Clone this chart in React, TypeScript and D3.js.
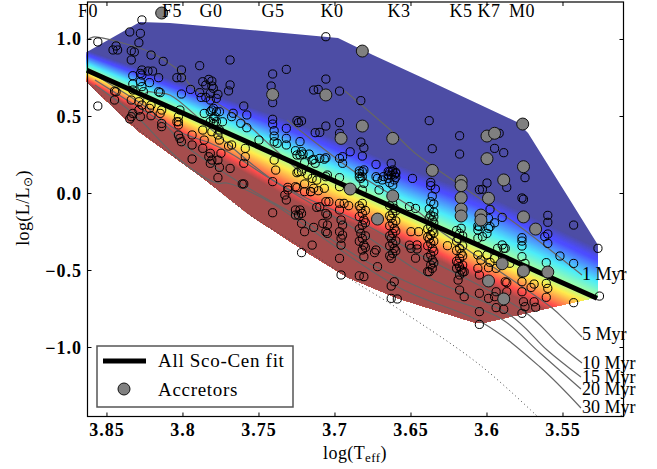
import React from "react";
import * as d3 from "d3";

// ---- data (logTeff, logL) ----
const xTicks = [3.85, 3.8, 3.75, 3.7, 3.65, 3.6, 3.55];
const yTicks = [1.0, 0.5, 0.0, -0.5, -1.0];
const spectralTypes: [string, number][] = [["F0", 3.8625], ["F5", 3.8072], ["G0", 3.7816], ["G5", 3.7408], ["K0", 3.702], ["K3", 3.6579], ["K5", 3.6171], ["K7", 3.5987], ["M0", 3.577]];

const fit: [number, number][] = [[3.8632, 0.8], [3.5276, -0.68]];

const region: [number, number][] = [[3.8632, 0.919], [3.8283, 1.114], [3.8086, 1.107], [3.7559, 1.062], [3.698, 1.01], [3.675, 0.899], [3.6421, 0.75], [3.5803, 0.464], [3.573, 0.393], [3.5454, -0.042], [3.527, -0.334], [3.527, -0.672], [3.5566, -0.737], [3.6027, -0.841], [3.6092, -0.834], [3.6592, -0.679], [3.6921, -0.542], [3.7178, -0.386], [3.7559, -0.14], [3.7868, 0.101], [3.8303, 0.412], [3.8632, 0.724]];

// half widths of the colour band above and below the fit
const bandT = [3.8632, 3.723, 3.657, 3.592, 3.5276];
const bandUp = [0.13, 0.27, 0.29, 0.35, 0.33];
const bandDown = [0.08, 0.25, 0.2, 0.23, 0.22];

const jetStops = [0, 0.11, 0.125, 0.35, 0.5, 0.64, 0.75, 0.89, 1];
const jetColors = ["#00007f", "#0000ff", "#0000ff", "#00e5f7", "#7cff79", "#ffe600", "#ff8000", "#ff0000", "#7f0000"];

const isoEarly: [number, number][] = [[3.8632, 0.997], [3.8592, 1.016], [3.8533, 1.01], [3.8217, 0.919], [3.8105, 0.854], [3.8007, 0.782], [3.7954, 0.705], [3.7809, 0.607], [3.7625, 0.49], [3.7428, 0.315], [3.723, 0.14]];
const iso1: [number, number][] = [[3.6934, 0.666], [3.6605, 0.386], [3.6474, 0.263], [3.5816, -0.192], [3.5375, -0.529]];
const iso5: [number, number][] = [[3.7316, 0.477], [3.6888, 0.153], [3.6441, -0.127], [3.6342, -0.218], [3.5882, -0.529], [3.5572, -0.744], [3.5487, -0.821], [3.5375, -0.932]];
const iso10: [number, number][] = [[3.8263, 0.588], [3.8237, 0.659], [3.8171, 0.653], [3.8086, 0.64], [3.7868, 0.464], [3.7711, 0.328], [3.7428, 0.101], [3.723, -0.01], [3.6836, -0.185], [3.6441, -0.399], [3.575, -0.769], [3.552, -0.984], [3.5375, -1.101]];
const iso15: [number, number][] = [[3.8612, 0.789], [3.8283, 0.588], [3.802, 0.399], [3.7822, 0.328], [3.7691, 0.263], [3.7382, 0.068], [3.7118, -0.088], [3.6836, -0.25], [3.6375, -0.549], [3.5849, -0.789], [3.5605, -1.016], [3.5382, -1.192]];
const iso20: [number, number][] = [[3.8579, 0.737], [3.8349, 0.594], [3.8118, 0.445], [3.8007, 0.328], [3.7776, 0.166], [3.7493, -0.01], [3.723, -0.159], [3.6836, -0.419], [3.6375, -0.64], [3.5915, -0.808], [3.5651, -1.036], [3.5382, -1.269]];
const iso30: [number, number][] = [[3.8579, 0.705], [3.8316, 0.51], [3.802, 0.218], [3.7776, 0.068], [3.7711, 0.068], [3.7428, -0.055], [3.723, -0.185], [3.6572, -0.614], [3.6027, -0.841], [3.5651, -1.127], [3.5382, -1.393]];
const isoLimit: [number, number][] = [[3.8632, 0.724], [3.8303, 0.425], [3.7868, 0.101], [3.7559, -0.14], [3.7184, -0.367], [3.6921, -0.542], [3.6572, -0.756], [3.6046, -1.114], [3.5671, -1.445]];

const ageLabels: [string, number, number][] = [["1 Myr", 3.5375, -0.529], ["5 Myr", 3.5375, -0.92], ["10 Myr", 3.5375, -1.104], ["15 Myr", 3.5375, -1.2], ["20 Myr", 3.5375, -1.273], ["30 Myr", 3.5375, -1.39]];

const accretors: [number, number][] = [[3.814, 1.172], [3.741, 0.643], [3.682, 0.925], [3.706, 0.64], [3.696, 0.358], [3.682, 0.438], [3.662, 0.358], [3.69, 0.029], [3.672, -0.166], [3.662, -0.016], [3.636, 0.15], [3.617, 0.081], [3.617, 0.051], [3.617, -0.027], [3.617, -0.101], [3.617, -0.146], [3.6, 0.226], [3.6, 0.373], [3.595, 0.391], [3.589, 0.088], [3.599, -0.031], [3.604, -0.14], [3.604, -0.172], [3.5765, 0.451], [3.576, 0.174], [3.576, -0.152], [3.568, -0.231], [3.56, -0.51], [3.576, -0.503], [3.59, -0.456], [3.599, -0.568], [3.589, -0.685]];

const starsHot: [number, number][] = [[3.827, 1.127], [3.835, 1.049], [3.828, 1.04], [3.829, 0.979], [3.856, 0.984], [3.844, 0.958], [3.846, 0.932], [3.843, 0.932], [3.834, 0.927], [3.832, 0.919], [3.821, 0.899], [3.834, 0.867], [3.813, 0.858], [3.789, 0.83], [3.801, 0.802], [3.804, 0.752], [3.801, 0.752], [3.816, 0.752], [3.82, 0.795], [3.823, 0.795], [3.827, 0.802], [3.828, 0.78], [3.833, 0.765], [3.827, 0.769], [3.822, 0.72], [3.828, 0.726], [3.833, 0.711], [3.827, 0.694], [3.833, 0.672], [3.826, 0.661], [3.816, 0.661], [3.815, 0.655], [3.795, 0.676], [3.801, 0.646], [3.789, 0.655], [3.788, 0.624], [3.785, 0.624], [3.787, 0.726], [3.783, 0.741], [3.781, 0.73], [3.785, 0.704], [3.781, 0.698], [3.782, 0.65], [3.78, 0.683], [3.782, 0.607], [3.778, 0.618], [3.78, 0.553], [3.782, 0.531], [3.786, 0.52], [3.779, 0.499], [3.782, 0.466], [3.78, 0.455], [3.778, 0.466], [3.845, 0.665], [3.844, 0.661], [3.845, 0.607], [3.856, 0.568], [3.834, 0.607], [3.829, 0.596], [3.827, 0.574], [3.821, 0.574], [3.822, 0.553], [3.829, 0.542], [3.833, 0.52], [3.834, 0.499], [3.835, 0.484], [3.828, 0.499], [3.821, 0.505], [3.814, 0.542], [3.815, 0.52], [3.814, 0.455], [3.814, 0.434], [3.802, 0.542], [3.803, 0.466], [3.803, 0.445], [3.804, 0.466], [3.803, 0.499], [3.794, 0.38], [3.787, 0.412], [3.781, 0.401], [3.777, 0.38], [3.803, 0.38], [3.802, 0.358], [3.801, 0.336], [3.794, 0.315], [3.786, 0.347], [3.787, 0.293], [3.782, 0.261], [3.783, 0.239], [3.781, 0.217], [3.782, 0.196], [3.794, 0.224], [3.777, 0.217]];

const starsG: [number, number][] = [[3.769, 0.867], [3.732, 0.806], [3.741, 0.776], [3.769, 0.705], [3.77, 0.666], [3.777, 0.644], [3.742, 0.698], [3.741, 0.59], [3.711, 0.676], [3.76, 0.568], [3.758, 0.51], [3.767, 0.521], [3.768, 0.499], [3.762, 0.456], [3.758, 0.427], [3.741, 0.482], [3.741, 0.451], [3.74, 0.408], [3.74, 0.373], [3.738, 0.326], [3.74, 0.336], [3.732, 0.423], [3.732, 0.358], [3.732, 0.315], [3.724, 0.46], [3.722, 0.471], [3.723, 0.337], [3.71, 0.397], [3.722, 0.272], [3.717, 0.256], [3.723, 0.25], [3.715, 0.217], [3.71, 0.228], [3.75, 0.347], [3.774, 0.466], [3.778, 0.531], [3.781, 0.542], [3.776, 0.531], [3.78, 0.488], [3.776, 0.412], [3.776, 0.347], [3.77, 0.308], [3.768, 0.315], [3.759, 0.293], [3.759, 0.239], [3.76, 0.196], [3.775, 0.261], [3.776, 0.17], [3.769, 0.163], [3.76, 0.062], [3.761, 0.062], [3.777, 0.103], [3.74, 0.217], [3.739, 0.152], [3.741, 0.077], [3.725, 0.135], [3.722, 0.142], [3.718, 0.12], [3.715, 0.098], [3.712, 0.087], [3.731, 0.04], [3.731, 0.023], [3.733, -0.01], [3.732, -0.042], [3.725, 0.038], [3.716, 0.012], [3.711, 0.018], [3.723, -0.107], [3.724, -0.14], [3.722, -0.129], [3.741, -0.125], [3.71, -0.086]];

const starsK0: [number, number][] = [[3.706, 1.018], [3.706, 0.743], [3.714, 0.672], [3.697, 0.665], [3.683, 0.603], [3.725, 0.473], [3.706, 0.438], [3.697, 0.46], [3.713, 0.395], [3.697, 0.391], [3.683, 0.334], [3.681, 0.297], [3.682, 0.243], [3.69, 0.271], [3.673, 0.189], [3.663, 0.196], [3.706, 0.232], [3.707, 0.223], [3.714, 0.222], [3.713, 0.196], [3.721, 0.256], [3.726, 0.278], [3.725, 0.25], [3.72, 0.2], [3.697, 0.228], [3.695, 0.239], [3.695, 0.196], [3.684, 0.146], [3.682, 0.109], [3.673, 0.109], [3.662, 0.142], [3.66, 0.137], [3.661, 0.12], [3.665, 0.12], [3.706, 0.109], [3.697, 0.103], [3.684, 0.109], [3.669, 0.088], [3.668, 0.11]];

const starsK1: [number, number][] = [[3.724, 0.142], [3.72, 0.062], [3.726, 0.044], [3.72, 0.012], [3.714, 0.034], [3.716, 0.012], [3.707, 0.034], [3.705, 0.12], [3.697, 0.044], [3.706, -0.053], [3.704, -0.053], [3.697, -0.064], [3.694, -0.064], [3.691, -0.079], [3.712, -0.09], [3.697, -0.107], [3.706, -0.129], [3.705, -0.14], [3.696, -0.172], [3.726, -0.107], [3.726, -0.14], [3.722, -0.194], [3.72, -0.248], [3.714, -0.22], [3.708, -0.194], [3.705, -0.205], [3.706, -0.248], [3.705, -0.259], [3.695, -0.205], [3.697, -0.248], [3.695, -0.27], [3.696, -0.291], [3.715, -0.335], [3.696, -0.335], [3.722, -0.384], [3.697, -0.421], [3.696, -0.529], [3.684, -0.534], [3.681, -0.54]];

const starsK2: [number, number][] = [[3.682, 0.142], [3.683, 0.098], [3.681, 0.066], [3.682, 0.023], [3.682, -0.064], [3.683, -0.096], [3.682, -0.129], [3.681, -0.172], [3.682, -0.205], [3.683, -0.259], [3.682, -0.291], [3.681, -0.335], [3.682, -0.367], [3.681, -0.41], [3.684, 0.13], [3.681, 0.153], [3.672, 0.098], [3.671, 0.023], [3.673, -0.367], [3.674, -0.384], [3.672, -0.475], [3.684, -0.08], [3.68, -0.11], [3.684, -0.15], [3.68, -0.19], [3.684, -0.23], [3.68, -0.275], [3.684, -0.31], [3.68, -0.35]];

const starsK3: [number, number][] = [[3.662, 0.153], [3.663, 0.12], [3.661, 0.088], [3.662, 0.055], [3.662, -0.064], [3.661, -0.096], [3.662, -0.129], [3.663, -0.161], [3.662, -0.194], [3.661, -0.226], [3.662, -0.259], [3.663, -0.291], [3.662, -0.324], [3.661, -0.356], [3.662, -0.389], [3.663, -0.421], [3.665, 0.098], [3.66, 0.13], [3.665, 0.142], [3.651, -0.085], [3.65, -0.248], [3.651, -0.335], [3.65, -0.356], [3.663, -0.601], [3.661, -0.573], [3.663, -0.681], [3.649, 0.098], [3.659, -0.685], [3.664, -0.08], [3.66, -0.112], [3.664, -0.145], [3.66, -0.178], [3.664, -0.21], [3.66, -0.243], [3.664, -0.275], [3.66, -0.308], [3.664, -0.34], [3.66, -0.372], [3.664, -0.405], [3.664, 0.07], [3.66, 0.105], [3.664, 0.14]];

const starsK5Up: [number, number][] = [[3.638, 0.473], [3.618, 0.375], [3.636, 0.291], [3.618, 0.256], [3.595, 0.293], [3.589, 0.265], [3.592, 0.391], [3.637, 0.072], [3.637, 0.051], [3.634, 0.029], [3.636, -0.017], [3.637, -0.053], [3.635, -0.068], [3.647, -0.097], [3.637, -0.14], [3.635, -0.151], [3.636, -0.172], [3.6, 0.068], [3.605, 0.025], [3.603, 0.027], [3.587, 0.04], [3.598, -0.103], [3.59, -0.155], [3.595, -0.19], [3.599, -0.161], [3.599, -0.226], [3.606, -0.211], [3.617, -0.226], [3.638, -0.1], [3.635, -0.12], [3.638, -0.16], [3.635, -0.19]];

const starsK5Low: [number, number][] = [[3.637, -0.215], [3.636, -0.243], [3.637, -0.269], [3.638, -0.295], [3.637, -0.324], [3.636, -0.356], [3.637, -0.399], [3.636, -0.432], [3.637, -0.464], [3.636, -0.486], [3.638, -0.508], [3.646, -0.334], [3.646, -0.36], [3.647, -0.42], [3.626, -0.339], [3.645, -0.248], [3.639, -0.507], [3.618, -0.259], [3.619, -0.291], [3.618, -0.356], [3.617, -0.389], [3.618, -0.421], [3.619, -0.453], [3.618, -0.475], [3.617, -0.497], [3.618, -0.529], [3.619, -0.562], [3.615, -0.508], [3.618, -0.627], [3.615, -0.67], [3.606, -0.399], [3.604, -0.432], [3.606, -0.486], [3.605, -0.529], [3.605, -0.648], [3.605, -0.767], [3.605, -0.85], [3.599, -0.681], [3.598, -0.447], [3.599, -0.482], [3.6, -0.399], [3.595, -0.421], [3.594, -0.486], [3.588, -0.573], [3.594, -0.638], [3.595, -0.67], [3.594, -0.741], [3.589, -0.752], [3.585, -0.453], [3.59, -0.334], [3.589, -0.356], [3.593, -0.356], [3.606, -0.291], [3.603, -0.28], [3.6, -0.259], [3.606, -0.237], [3.598, -0.215], [3.605, -0.215], [3.639, -0.23], [3.635, -0.256], [3.639, -0.282], [3.635, -0.31], [3.639, -0.34], [3.635, -0.375], [3.639, -0.415], [3.635, -0.45], [3.62, -0.24], [3.616, -0.275], [3.62, -0.31], [3.616, -0.34], [3.62, -0.37], [3.616, -0.405], [3.62, -0.44], [3.616, -0.465], [3.62, -0.485], [3.616, -0.51]];

const starsM: [number, number][] = [[3.575, 0.103], [3.577, -0.029], [3.576, -0.037], [3.56, -0.142], [3.56, -0.187], [3.543, -0.205], [3.56, -0.263], [3.562, -0.28], [3.56, -0.324], [3.577, -0.287], [3.577, -0.309], [3.577, -0.341], [3.588, -0.356], [3.577, -0.41], [3.575, -0.454], [3.561, -0.449], [3.552, -0.406], [3.543, -0.454], [3.527, -0.356], [3.526, -0.666], [3.543, -0.709], [3.561, -0.584], [3.56, -0.616], [3.561, -0.674], [3.569, -0.588], [3.571, -0.61], [3.577, -0.519], [3.577, -0.573], [3.577, -0.638], [3.576, -0.703], [3.575, -0.735], [3.577, -0.778], [3.569, -0.703], [3.568, -0.739], [3.587, -0.579], [3.587, -0.638]];

const stars = [...starsHot, ...starsG, ...starsK0, ...starsK1, ...starsK2, ...starsK3, ...starsK5Up, ...starsK5Low, ...starsM];

// ---- layout ----
const W = 657, H = 469;
const x = d3.scaleLinear().domain([3.8628, 3.5102]).range([87.5, 623.5]);
const y = d3.scaleLinear().domain([1.2435, -1.448]).range([2, 416.5]);
const serif = "'Liberation Serif', serif";

const lineGen = d3.line<[number, number]>().x(d => x(d[0])).y(d => y(d[1]));
const smoothLine = d3.line<[number, number]>().x(d => x(d[0])).y(d => y(d[1])).curve(d3.curveCatmullRom.alpha(0.5));
const fitL = d3.scaleLinear().domain([fit[0][0], fit[1][0]]).range([fit[0][1], fit[1][1]]);
const up = d3.scaleLinear<number>().domain(bandT).range(bandUp);
const down = d3.scaleLinear<number>().domain(bandT).range(bandDown);
const jet = d3.scaleLinear<string>().domain(jetStops).range(jetColors).interpolate(d3.interpolateRgb);
const overWhite = (c: string) => d3.interpolateRgb("#ffffff", c)(0.7);

const bandLevels = d3.range(0, 1.0001, 1 / 140);
const offsetAt = (v: number, t: number) => {
  const centre = 0.52;
  if (v < centre) return up(t) * ((centre - v) / centre);
  return -down(t) * ((v - centre) / (1 - centre));
};
const sampleT = d3.range(3.87, 3.52, -0.01);
const bandPath = (v: number) =>
  d3.area<number>()
    .x(t => x(t))
    .y0(() => y(-3))
    .y1(t => (v === 0 ? y(3) : y(fitL(t) + offsetAt(v, t))))(sampleT) as string;

const AxisLabelStyle = { fontFamily: serif, fill: "#000" } as const;

export default function App() {
  return (
    <svg width={W} height={H} style={{ position: "absolute", left: 0, top: 0, background: "#fff" }}>
      <defs>
        <clipPath id="region"><path d={lineGen(region) + "Z"} /></clipPath>
        <clipPath id="plot"><rect x={87.5} y={2} width={536} height={414.5} /></clipPath>
      </defs>

      <g clipPath="url(#region)">
        {bandLevels.map((v, i) => (
          <path key={i} d={bandPath(v)} fill={overWhite(jet(v))} />
        ))}
      </g>

      <g clipPath="url(#plot)" fill="none">
        <path d={smoothLine(isoLimit) as string} stroke="#444" strokeWidth={1} strokeDasharray="1 3" />
      </g>
      <g fill="none" stroke="#666" strokeWidth={1.2}>
        {[isoEarly, iso1, iso5, iso10, iso15, iso20, iso30].map((s, i) => (
          <path key={i} d={smoothLine(s) as string} />
        ))}
      </g>

      <g fill="none" stroke="#000" strokeWidth={1}>
        {stars.map((d, i) => <circle key={i} cx={x(d[0])} cy={y(d[1])} r={4.1} />)}
      </g>

      <path d={lineGen(fit) as string} stroke="#000" strokeWidth={5} fill="none" />

      <g fill="#808080" stroke="#111" strokeWidth={1}>
        {accretors.map((d, i) => <circle key={i} cx={x(d[0])} cy={y(d[1])} r={6} />)}
      </g>

      {/* frame and ticks */}
      <rect x={87.5} y={2} width={536} height={414.5} fill="none" stroke="#000" strokeWidth={1.2} />
      <g stroke="#000" strokeWidth={1}>
        {xTicks.map(t => (
          <g key={t}>
            <line x1={x(t)} x2={x(t)} y1={416.5} y2={412.5} />
            <line x1={x(t)} x2={x(t)} y1={2} y2={6} />
          </g>
        ))}
        {yTicks.map(l => (
          <g key={l}>
            <line x1={87.5} x2={91.5} y1={y(l)} y2={y(l)} />
            <line x1={623.5} x2={619.5} y1={y(l)} y2={y(l)} />
          </g>
        ))}
      </g>

      {/* tick labels */}
      <g {...AxisLabelStyle} fontSize={18} fontWeight="bold" letterSpacing={1} textAnchor="middle">
        {xTicks.map(t => <text key={t} x={x(t)} y={436}>{d3.format(".3~f")(t)}</text>)}
      </g>
      <g {...AxisLabelStyle} fontSize={18} fontWeight="bold" letterSpacing={1} textAnchor="end">
        {yTicks.map(l => <text key={l} x={82} y={y(l) + 6}>{d3.format(".1f")(l).replace("-", "\u2212")}</text>)}
      </g>

      {/* spectral types */}
      <g {...AxisLabelStyle} fontSize={18} textAnchor="middle" letterSpacing={0.5}>
        {spectralTypes.map(([s, t]) => <text key={s} x={x(t)} y={17}>{s}</text>)}
      </g>

      {/* age labels */}
      <g {...AxisLabelStyle} fontSize={18}>
        {ageLabels.map(([s, t, l]) => <text key={s} x={x(t)} y={y(l) + 5}>{s}</text>)}
      </g>

      {/* axis titles */}
      <text {...AxisLabelStyle} x={355} y={459} fontSize={18} textAnchor="middle" letterSpacing={0.4}>
        log(T<tspan fontSize={13} dy={3}>eff</tspan><tspan dy={-3}>)</tspan>
      </text>
      <text {...AxisLabelStyle} transform="translate(29,208) rotate(-90)" fontSize={18} textAnchor="middle" letterSpacing={0.4}>
        log(L/L<tspan fontSize={12} dy={3} fontFamily="'DejaVu Sans'">{"\u2299"}</tspan><tspan dy={-3}>)</tspan>
      </text>

      {/* legend */}
      <rect x={97} y={346} width={196} height={61} fill="#fff" stroke="#555" strokeWidth={1.5} />
      <line x1={103} x2={146} y1={361} y2={361} stroke="#000" strokeWidth={5} />
      <circle cx={124} cy={389} r={6} fill="#808080" stroke="#111" strokeWidth={1} />
      <text {...AxisLabelStyle} x={158} y={367} fontSize={19} letterSpacing={0.7}>All Sco-Cen fit</text>
      <text {...AxisLabelStyle} x={158} y={396} fontSize={19} letterSpacing={0.7}>Accretors</text>
    </svg>
  );
}
